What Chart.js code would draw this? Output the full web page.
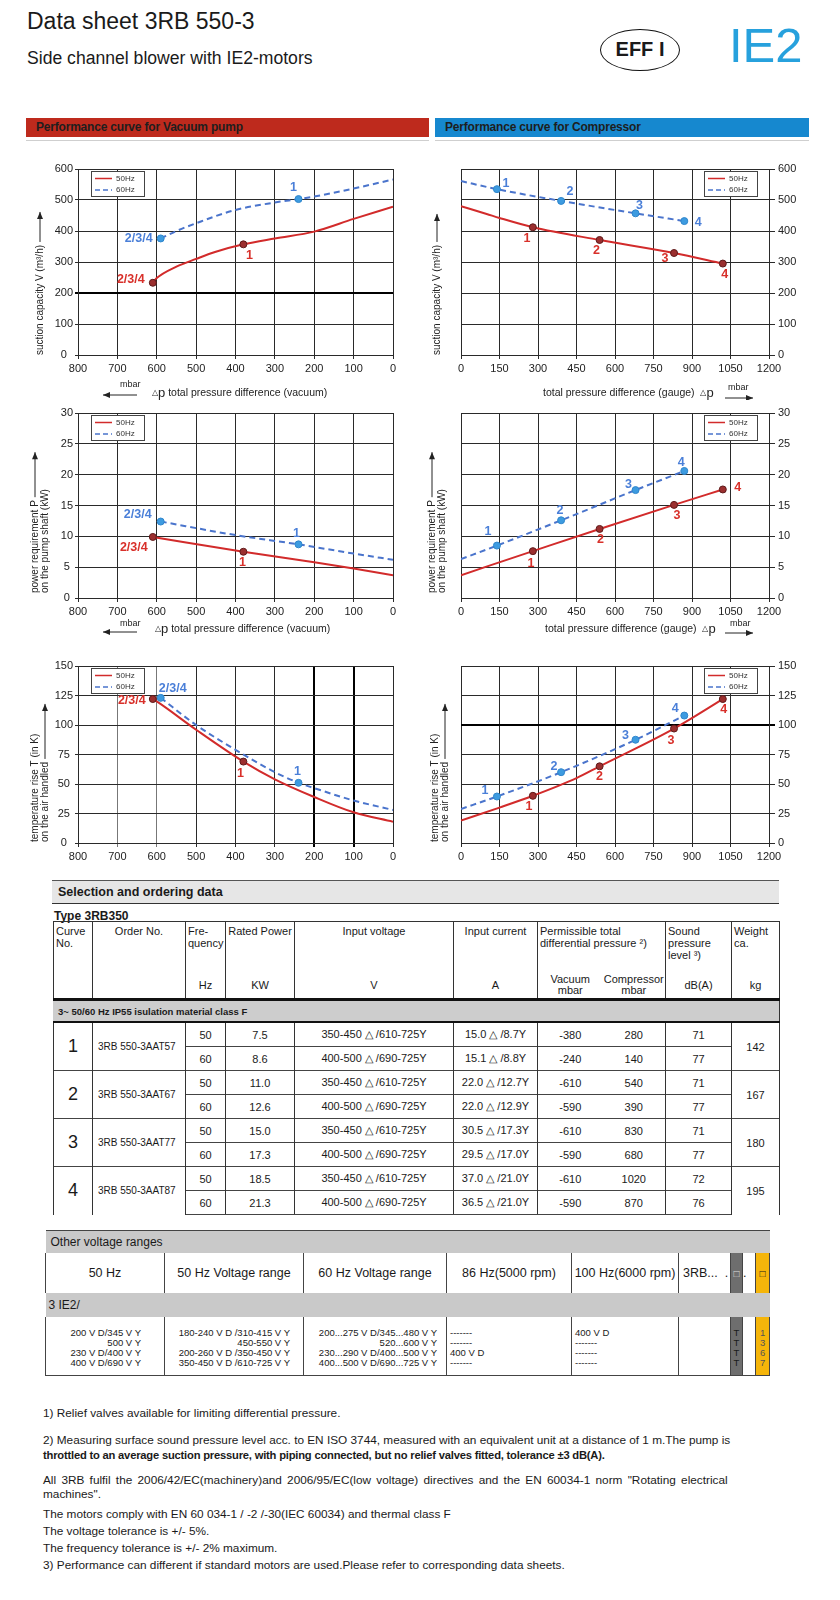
<!DOCTYPE html>
<html>
<head>
<meta charset="utf-8">
<title>Data sheet 3RB 550-3</title>
<script src="https://cdn.jsdelivr.net/npm/chart.js@4.4.1/dist/chart.umd.min.js"></script>
<style>
  body { margin: 0; background: #fff; font-family: "Liberation Sans", Arial, sans-serif; color: #1a1a1a; }
  #page { position: relative; width: 840px; height: 1600px; overflow: hidden; }
  .abs { position: absolute; white-space: nowrap; }
  .narrow { font-family: "Liberation Sans Narrow", "Liberation Sans", Arial, sans-serif; }
  .chartbox { position: absolute; }

  .bar { position: absolute; top: 118px; height: 19px; line-height: 19px; font-size: 12px; font-weight: bold;
         padding-left: 10px; box-sizing: border-box; color: #1e1e1e; letter-spacing: -0.2px; }
  .barline { position: absolute; top: 140px; height: 1px; background: #cfcfcf; }

  table.sel { position: absolute; left: 53px; top: 921px; width: 726px; border-collapse: collapse;
              table-layout: fixed; font-size: 11px; color: #1a1a1a; }
  table.sel td { border-left: 1px solid #333; border-right: 1px solid #333; padding: 0; white-space: nowrap; }
  table.sel tr.h1 td { height: 47px; vertical-align: top; padding: 3px 2px 0 2px; line-height: 12px; border-top: 1px solid #333; }
  table.sel tr.h1 td.c { padding: 3px 0 0 0; text-align: center; }
  table.sel tr.h2 td { height: 26px; vertical-align: middle; text-align: center; line-height: 11px;
                       border-bottom: 3px solid #111; }
  table.sel tr.band td { height: 20px; background: #cdcdcd; font-weight: bold; font-size: 9.5px;
                         padding-left: 4px; border-bottom: 2px solid #111; border-left: 1px solid #cdcdcd; }
  table.sel tr.d td { height: 23px; text-align: center; border-top: 1px solid #444; }
  table.sel td.vac { border-right-style: hidden; }
  table.sel td.cn { font-size: 18px; }
  table.sel tr.d td.ord { text-align: left; padding-left: 5px; font-size: 10px; }
  table.sel tr.last td { border-bottom: 1px solid #444; }

  table.ov { position: absolute; left: 45px; top: 1230px; width: 724px; border-collapse: collapse;
             table-layout: fixed; font-size: 12.5px; color: #1a1a1a; }
  table.ov td { padding: 0; white-space: nowrap; }
  table.ov tr.band td { height: 22px; background: #c9c9c9; border-top: 1px solid #444; padding-left: 5px; font-size: 12px; }
  table.ov tr.hd td { height: 40px; text-align: center; border-left: 1px solid #444; border-right: 1px solid #444; }
  table.ov tr.ie td { height: 24px; background: #c9c9c9; font-size: 12px; }
  table.ov tr.dt td { height: 47px; vertical-align: top; padding-top: 11px; font-size: 9.5px; line-height: 10px;
                      border-left: 1px solid #444; border-right: 1px solid #444; border-bottom: 1px solid #444; }
  table.ov td.g { background: #6e6e6e; border: none; }
  table.ov td.y { background: #f5b50a; border: none; }
  table.ov td.w { background: #fff; border: none; }

  .fn { position: absolute; left: 43px; font-size: 11.8px; line-height: 14px; white-space: nowrap; color: #1a1a1a; }
</style>
</head>
<body>
<div id="page">

  <div class="abs" style="left:27px; top:7px; font-size:23px; line-height:28px;">Data sheet 3RB 550-3</div>
  <div class="abs" style="left:27px; top:48px; font-size:17.6px; line-height:20px;">Side channel blower with IE2-motors</div>
  <div class="abs narrow" style="left:600px; top:29px; width:80px; height:42px; box-sizing:border-box; border:1.5px solid #111;
       border-radius:50%; text-align:center; line-height:39px; font-size:20px; font-weight:bold;">EFF I</div>
  <div class="abs narrow" style="left:729px; top:21px; font-size:49px; line-height:49px; color:#27a1dd;">IE2</div>

  <div class="bar" style="left:26px; width:403px; background:#be2a1d;">Performance curve for Vacuum pump</div>
  <div class="bar" style="left:435px; width:374px; background:#1688cf;">Performance curve for Compressor</div>
  <div class="barline" style="left:26px; width:403px;"></div>
  <div class="barline" style="left:435px; width:374px;"></div>

  <div class="chartbox" style="left:20px; top:150px;"><canvas id="vacFlow" width="400" height="250"></canvas></div>
  <div class="chartbox" style="left:420px; top:150px;"><canvas id="compFlow" width="420" height="250"></canvas></div>
  <div class="chartbox" style="left:20px; top:395px;"><canvas id="vacPower" width="400" height="245"></canvas></div>
  <div class="chartbox" style="left:420px; top:395px;"><canvas id="compPower" width="420" height="245"></canvas></div>
  <div class="chartbox" style="left:20px; top:645px;"><canvas id="vacTemp" width="400" height="225"></canvas></div>
  <div class="chartbox" style="left:420px; top:645px;"><canvas id="compTemp" width="420" height="225"></canvas></div>

  <!-- Selection and ordering data -->
  <div class="abs" style="left:52px; top:880px; width:721px; height:22px; background:#e6e6e6; border-top:1px solid #555;
       border-bottom:1px solid #333; font-size:12.5px; font-weight:bold; line-height:22px; padding-left:6px;">Selection and ordering data</div>
  <div class="abs" style="left:54px; top:909px; font-size:12px; font-weight:bold; line-height:14px;">Type 3RB350</div>

  <table class="sel narrow">
    <colgroup>
      <col style="width:39px"><col style="width:93px"><col style="width:40px"><col style="width:69px">
      <col style="width:159px"><col style="width:84px"><col style="width:65px"><col style="width:63px">
      <col style="width:66px"><col style="width:48px">
    </colgroup>
    <tr class="h1">
      <td>Curve<br>No.</td><td class="c">Order No.</td><td>Fre-<br>quency</td>
      <td class="c">Rated Power</td><td class="c">Input voltage</td>
      <td class="c">Input current</td><td colspan="2">Permissible total<br>differential pressure ²)</td>
      <td>Sound<br>pressure<br>level ³)</td><td>Weight<br>ca.</td>
    </tr>
    <tr class="h2">
      <td></td><td></td><td>Hz</td><td>KW</td><td>V</td><td>A</td>
      <td class="vac">Vacuum<br>mbar</td><td>Compressor<br>mbar</td><td>dB(A)</td><td>kg</td>
    </tr>
    <tr class="band"><td colspan="10">3~ 50/60 Hz IP55 isulation material class F</td></tr>

    <tr class="d"><td rowspan="2" class="cn">1</td><td rowspan="2" class="ord">3RB 550-3AAT57</td><td>50</td><td>7.5</td><td>350-450 △ /610-725Y</td><td>15.0 △ /8.7Y</td><td class="vac">-380</td><td>280</td><td>71</td><td rowspan="2">142</td></tr>
    <tr class="d"><td>60</td><td>8.6</td><td>400-500 △ /690-725Y</td><td>15.1 △ /8.8Y</td><td class="vac">-240</td><td>140</td><td>77</td></tr>
    <tr class="d"><td rowspan="2" class="cn">2</td><td rowspan="2" class="ord">3RB 550-3AAT67</td><td>50</td><td>11.0</td><td>350-450 △ /610-725Y</td><td>22.0 △ /12.7Y</td><td class="vac">-610</td><td>540</td><td>71</td><td rowspan="2">167</td></tr>
    <tr class="d"><td>60</td><td>12.6</td><td>400-500 △ /690-725Y</td><td>22.0 △ /12.9Y</td><td class="vac">-590</td><td>390</td><td>77</td></tr>
    <tr class="d"><td rowspan="2" class="cn">3</td><td rowspan="2" class="ord">3RB 550-3AAT77</td><td>50</td><td>15.0</td><td>350-450 △ /610-725Y</td><td>30.5 △ /17.3Y</td><td class="vac">-610</td><td>830</td><td>71</td><td rowspan="2">180</td></tr>
    <tr class="d"><td>60</td><td>17.3</td><td>400-500 △ /690-725Y</td><td>29.5 △ /17.0Y</td><td class="vac">-590</td><td>680</td><td>77</td></tr>
    <tr class="d"><td rowspan="2" class="cn">4</td><td rowspan="2" class="ord">3RB 550-3AAT87</td><td>50</td><td>18.5</td><td>350-450 △ /610-725Y</td><td>37.0 △ /21.0Y</td><td class="vac">-610</td><td>1020</td><td>72</td><td rowspan="2">195</td></tr>
    <tr class="d last"><td>60</td><td>21.3</td><td>400-500 △ /690-725Y</td><td>36.5 △ /21.0Y</td><td class="vac">-590</td><td>870</td><td>76</td></tr>
  </table>

  <!-- Other voltage ranges -->
  <table class="ov narrow">
    <colgroup>
      <col style="width:119px"><col style="width:139px"><col style="width:143px"><col style="width:125px">
      <col style="width:107px"><col style="width:52px"><col style="width:12px"><col style="width:13px"><col style="width:14px">
    </colgroup>
    <tr class="band"><td colspan="9">Other voltage ranges</td></tr>
    <tr class="hd">
      <td>50 Hz</td><td>50 Hz Voltage range</td><td>60 Hz Voltage range</td><td>86 Hz(5000 rpm)</td>
      <td>100 Hz(6000 rpm)</td><td style="text-align:left; padding-left:4px; border-right:none;">3RB...&nbsp;&nbsp;.</td>
      <td class="g" style="color:#ddd; font-size:10px;">□</td><td class="w" style="text-align:left;">.</td>
      <td class="y" style="font-size:10px;">□</td>
    </tr>
    <tr class="ie"><td colspan="6" style="padding-left:3px;">3 IE2/</td><td class="g"></td><td style="background:#c9c9c9"></td><td class="y"></td></tr>
    <tr class="dt">
      <td style="text-align:right; padding-right:23px;">200 V D/345 V Y<br>500 V Y<br>230 V D/400 V Y<br>400 V D/690 V Y</td>
      <td style="text-align:right; padding-right:13px;">180-240 V D /310-415 V Y<br>450-550 V Y<br>200-260 V D /350-450 V Y<br>350-450 V D /610-725 V Y</td>
      <td style="text-align:right; padding-right:9px;">200...275 V D/345...480 V Y<br>520...600 V Y<br>230...290 V D/400...500 V Y<br>400...500 V D/690...725 V Y</td>
      <td style="padding-left:3px;">-------<br>-------<br>400 V D<br>-------</td>
      <td style="padding-left:3px;">400 V D<br>-------<br>-------<br>-------</td>
      <td style="border-right:none;"></td>
      <td class="g" style="text-align:center; color:#1a1a1a;">T<br>T<br>T<br>T</td>
      <td class="w"></td>
      <td class="y" style="text-align:center; color:#555;">1<br>3<br>6<br>7</td>
    </tr>
  </table>

  <div class="fn" style="top:1406px;">1) Relief valves available for limiting differential pressure.</div>
  <div class="fn" style="top:1433px;">2) Measuring surface sound pressure level acc. to EN ISO 3744, measured with an equivalent unit at a distance of 1 m.The pump is</div>
  <div class="fn" style="top:1448px; font-size:11.2px; font-weight:bold; letter-spacing:-0.2px;">throttled to an average suction pressure, with piping connected, but no relief valves fitted, tolerance ±3 dB(A).</div>
  <div class="fn" style="top:1473px; word-spacing:2px;">All 3RB fulfil the 2006/42/EC(machinery)and 2006/95/EC(low voltage) directives and the EN 60034-1 norm "Rotating electrical</div>
  <div class="fn" style="top:1487px;">machines".</div>
  <div class="fn" style="top:1507px;">The motors comply with EN 60 034-1 / -2 /-30(IEC 60034) and thermal class F</div>
  <div class="fn" style="top:1524px;">The voltage tolerance is +/- 5%.</div>
  <div class="fn" style="top:1541px;">The frequency tolerance is +/- 2% maximum.</div>
  <div class="fn" style="top:1558px;">3) Performance can different if standard motors are used.Please refer to corresponding data sheets.</div>
</div>

<script>
// ---------- axis tick labels ----------
const vacTicks   = [800, 700, 600, 500, 400, 300, 200, 100, 0];
const compTicks  = [0, 150, 300, 450, 600, 750, 900, 1050, 1200];
const flowTicks  = [0, 100, 200, 300, 400, 500, 600];
const powerTicks = [0, 5, 10, 15, 20, 25, 30];
const tempTicks  = [0, 25, 50, 75, 100, 125, 150];
const freqLabels = ['50Hz', '60Hz'];

// ---------- vacuum pump (x = total pressure difference, mbar) ----------
const vacFlowX50 = [610, 600, 550, 500, 450, 380, 300, 200, 100, 0];
const vacFlow50  = [233, 248, 285, 310, 333, 357, 376, 398, 439, 478];
const vacFlowX60 = [590, 550, 500, 400, 300, 240, 200, 100, 0];
const vacFlow60  = [376, 400, 425, 468, 492, 503, 511, 537, 566];

const vacPowX50 = [610, 380, 200, 100, 0];
const vacPow50  = [9.9, 7.5, 5.8, 4.8, 3.7];
const vacPowX60 = [590, 400, 240, 100, 0];
const vacPow60  = [12.4, 10.2, 8.7, 7.2, 6.2];

const vacTempX50 = [610, 600, 500, 380, 300, 200, 100, 0];
const vacTemp50  = [122, 120, 96, 69, 54, 39, 26, 18];
const vacTempX60 = [590, 500, 400, 300, 240, 200, 100, 0];
const vacTemp60  = [123, 100, 79, 60, 51, 46.5, 36, 28];

// operating points of the curves (vacuum)
const vacPtX50 = [610, 380];
const vacPtX60 = [590, 240];
const vacFlowPt50 = [233, 357];
const vacFlowPt60 = [376, 503];
const vacPowPt50  = [9.9, 7.5];
const vacPowPt60  = [12.4, 8.7];
const vacTempPt50 = [122, 69];
const vacTempPt60 = [123, 51];
const vacPtNames  = ['2/3/4', '1'];

// ---------- compressor (x = total pressure difference gauge, mbar) ----------
const compFlowX50 = [0, 100, 150, 280, 540, 830, 1020];
const compFlow50  = [480, 455, 442, 412, 371, 329, 295];
const compFlowX60 = [0, 140, 390, 680, 870];
const compFlow60  = [561, 535, 497, 457, 432];

const compPowX50 = [0, 280, 540, 830, 1020];
const compPow50  = [3.7, 7.6, 11.2, 15.1, 17.6];
const compPowX60 = [0, 140, 390, 680, 870];
const compPow60  = [6.3, 8.5, 12.6, 17.5, 20.6];

const compTempX50 = [0, 150, 280, 450, 540, 830, 1020];
const compTemp50  = [19, 30, 40, 55, 65, 97, 122];
const compTempX60 = [0, 140, 390, 680, 870];
const compTemp60  = [28.8, 39.4, 60, 87.5, 108];

// operating points (compressor)
const compPtX50 = [280, 540, 830, 1020];
const compPtX60 = [140, 390, 680, 870];
const compFlowPt50 = [412, 371, 329, 295];
const compFlowPt60 = [535, 497, 457, 432];
const compPowPt50  = [7.6, 11.2, 15.1, 17.6];
const compPowPt60  = [8.5, 12.6, 17.5, 20.6];
const compTempPt50 = [40, 65, 97, 122];
const compTempPt60 = [39.4, 60, 87.5, 108];
const compPtNames  = ['1', '2', '3', '4'];

// ---------- styles ----------
const RED = '#d22b2b';
const BLUE = '#4a74cc';
const FONT = '"Liberation Sans", Arial, sans-serif';
const GRID = '#2a2a2a';

function xy(xs, ys) {
    return xs.map((x, i) => ({ x: x, y: ys[i] }));
}

function curve(xs, ys, hz) {
    return {
        data: xy(xs, ys),
        showLine: true,
        pointRadius: 0,
        borderColor: hz === 50 ? RED : BLUE,
        borderWidth: 2,
        borderDash: hz === 50 ? [] : [6, 4],
        cubicInterpolationMode: 'monotone',
        order: 2
    };
}

function marks(xs, ys, hz, names, offsets) {
    return {
        data: xy(xs, ys),
        showLine: false,
        pointRadius: 3.5,
        pointBackgroundColor: hz === 50 ? '#9b2f2f' : '#3d9be0',
        pointBorderColor: hz === 50 ? '#5e1a1a' : '#2f86cc',
        pointBorderWidth: 1,
        order: 1,
        ptNames: names,
        ptOffsets: offsets,
        ptColor: hz === 50 ? '#d8302a' : '#4a7fd8'
    };
}

// ---------- plugins ----------
function arrow(ctx, x1, y1, x2, y2) {
    const a = Math.atan2(y2 - y1, x2 - x1);
    ctx.beginPath();
    ctx.moveTo(x1, y1);
    ctx.lineTo(x2, y2);
    ctx.stroke();
    ctx.beginPath();
    ctx.moveTo(x2, y2);
    ctx.lineTo(x2 - 7 * Math.cos(a) + 3 * Math.sin(a), y2 - 7 * Math.sin(a) - 3 * Math.cos(a));
    ctx.lineTo(x2 - 7 * Math.cos(a) - 3 * Math.sin(a), y2 - 7 * Math.sin(a) + 3 * Math.cos(a));
    ctx.closePath();
    ctx.fill();
}

// axis titles, arrows and the "△p ... mbar" captions
const decoPlugin = {
    id: 'deco',
    afterDraw(chart, args, o) {
        const ctx = chart.ctx;
        ctx.save();
        ctx.fillStyle = '#222';
        ctx.strokeStyle = '#222';
        ctx.lineWidth = 1;
        (o.yTitle || []).forEach(t => {
            ctx.save();
            ctx.translate(t.x, t.y);
            ctx.rotate(-Math.PI / 2);
            ctx.font = '10px ' + FONT;
            ctx.textAlign = 'left';
            ctx.textBaseline = 'middle';
            ctx.fillText(t.text, 0, 0);
            if (t.arrow) {
                const w = ctx.measureText(t.text).width + (t.gap || 3);
                arrow(ctx, w, 0, w + t.arrow, 0);
            }
            ctx.restore();
        });
        (o.captions || []).forEach(c => {
            let x = c.x;
            ctx.textBaseline = 'middle';
            ctx.textAlign = 'left';
            c.segs.forEach(s => {
                ctx.font = s[1] + 'px ' + FONT;
                ctx.fillText(s[0], x, c.y);
                x += ctx.measureText(s[0]).width;
            });
        });
        (o.arrows || []).forEach(a => arrow(ctx, a[0], a[1], a[2], a[3]));
        ctx.restore();
    }
};

// numbers next to the operating points
const ptLabelPlugin = {
    id: 'ptLabels',
    afterDatasetsDraw(chart) {
        const ctx = chart.ctx;
        chart.data.datasets.forEach((ds, i) => {
            if (!ds.ptNames) return;
            const meta = chart.getDatasetMeta(i);
            ctx.save();
            ctx.font = 'bold 12.5px ' + FONT;
            ctx.fillStyle = ds.ptColor;
            ctx.textAlign = 'center';
            ctx.textBaseline = 'middle';
            meta.data.forEach((el, j) => {
                const off = ds.ptOffsets[j];
                ctx.fillText(ds.ptNames[j], el.x + off[0], el.y + off[1]);
            });
            ctx.restore();
        });
    }
};

// small boxed legend inside the plot (under the curves and labels)
const hzLegendPlugin = {
    id: 'hzLegend',
    beforeDatasetsDraw(chart, args, o) {
        const a = chart.chartArea, ctx = chart.ctx;
        const w = 53, h = 25;
        const x = Math.round(o.side === 'left' ? a.left + 13 : a.right - 12 - w);
        const y = Math.round(a.top + 2);
        ctx.save();
        ctx.fillStyle = '#fff';
        ctx.fillRect(x, y, w, h);
        ctx.strokeStyle = '#444';
        ctx.lineWidth = 1;
        ctx.strokeRect(x + 0.5, y + 0.5, w, h);
        [[RED, []], [BLUE, [5, 3]]].forEach((r, i) => {
            const yy = y + 7.5 + i * 11.5;
            ctx.strokeStyle = r[0];
            ctx.lineWidth = 1.5;
            ctx.setLineDash(r[1]);
            ctx.beginPath();
            ctx.moveTo(x + 4, yy);
            ctx.lineTo(x + 21, yy);
            ctx.stroke();
            ctx.setLineDash([]);
            ctx.fillStyle = '#333';
            ctx.font = '8px ' + FONT;
            ctx.textBaseline = 'middle';
            ctx.fillText(freqLabels[i], x + 25, yy);
        });
        ctx.restore();
    }
};

function makeChart(id, o) {
    const vac = o.side === 'vac';
    const xt = vac ? vacTicks : compTicks;
    const yt = o.yTicks;
    const tickFont = { family: FONT, size: 11 };
    return new Chart(document.getElementById(id), {
        type: 'scatter',
        data: { datasets: o.datasets },
        options: {
            responsive: false,
            animation: false,
            events: [],
            layout: { padding: vac ? { left: 0, right: 27, top: o.top, bottom: 0 }
                                   : { left: 41, right: 0, top: o.top, bottom: 0 } },
            scales: {
                x: {
                    type: 'linear',
                    min: Math.min(...xt), max: Math.max(...xt),
                    reverse: vac,
                    ticks: { stepSize: Math.abs(xt[1] - xt[0]), font: tickFont, color: '#222', padding: 3,
                             maxRotation: 0, autoSkip: false, callback: v => String(v) },
                    grid: { color: o.xGridColor || GRID, lineWidth: o.xGridWidth || 1, tickLength: 4 },
                    border: { color: GRID },
                    afterFit: s => { s.height = o.xh; }
                },
                y: {
                    type: 'linear',
                    position: vac ? 'left' : 'right',
                    min: Math.min(...yt), max: Math.max(...yt),
                    ticks: { stepSize: yt[1] - yt[0], font: tickFont, color: '#222',
                             padding: vac ? 2 : 3, crossAlign: vac ? 'center' : 'near', callback: v => String(v) },
                    grid: { color: o.yGridColor || GRID, lineWidth: o.yGridWidth || 1, tickLength: vac ? 3 : 6 },
                    border: { color: GRID },
                    afterFit: s => { s.width = vac ? 58 : 71; }
                }
            },
            plugins: {
                legend: { display: false },
                tooltip: { enabled: false },
                deco: o.deco,
                hzLegend: { side: vac ? 'left' : 'right' }
            }
        },
        plugins: [decoPlugin, ptLabelPlugin, hzLegendPlugin]
    });
}

const vacCaption = [['△', 8], ['p', 13], [' total pressure difference (vacuum)', 10.5]];
const compCaption = [['total pressure difference (gauge)  ', 10.5], ['△', 8], ['p', 13]];
const thick = v => (ctx => ctx.tick && v.includes(ctx.tick.value) ? 2 : 1);
const thickColor = v => (ctx => ctx.tick && v.includes(ctx.tick.value) ? '#000' : GRID);

// ---------- suction capacity ----------
makeChart('vacFlow', {
    side: 'vac', yTicks: flowTicks, top: 19, xh: 45,
    yGridWidth: thick([200]), yGridColor: thickColor([200]),
    datasets: [
        marks(vacPtX50, vacFlowPt50, 50, vacPtNames, [[-22, -3], [6, 11]]),
        marks(vacPtX60, vacFlowPt60, 60, vacPtNames, [[-22, 0], [-5, -12]]),
        curve(vacFlowX50, vacFlow50, 50),
        curve(vacFlowX60, vacFlow60, 60)
    ],
    deco: {
        yTitle: [{ x: 20, y: 205, text: 'suction capacity V (m³/h)', arrow: 30, gap: 3 }],
        captions: [{ x: 100, y: 235, segs: [['mbar', 9]] }, { x: 132, y: 243, segs: vacCaption }],
        arrows: [[117, 245, 83, 245]]
    }
});

makeChart('compFlow', {
    side: 'comp', yTicks: flowTicks, top: 19, xh: 45,
    datasets: [
        marks(compPtX50, compFlowPt50, 50, compPtNames, [[-6, 11], [-3, 11], [-9, 6], [2, 11]]),
        marks(compPtX60, compFlowPt60, 60, compPtNames, [[9, -6], [9, -9], [4, -8], [14, 1]]),
        curve(compFlowX50, compFlow50, 50),
        curve(compFlowX60, compFlow60, 60)
    ],
    deco: {
        yTitle: [{ x: 17, y: 205, text: 'suction capacity V (m³/h)', arrow: 28, gap: 3 }],
        captions: [{ x: 123, y: 243, segs: compCaption }, { x: 308, y: 238, segs: [['mbar', 9]] }],
        arrows: [[305, 248, 333, 248]]
    }
});

// ---------- power requirement ----------
makeChart('vacPower', {
    side: 'vac', yTicks: powerTicks, top: 18, xh: 42,
    datasets: [
        marks(vacPtX50, vacPowPt50, 50, vacPtNames, [[-19, 11], [-1, 11]]),
        marks(vacPtX60, vacPowPt60, 60, vacPtNames, [[-23, -7], [-2, -11]]),
        curve(vacPowX50, vacPow50, 50),
        curve(vacPowX60, vacPow60, 60)
    ],
    deco: {
        yTitle: [{ x: 15, y: 198, text: 'power requirement P', arrow: 45, gap: 3 },
                 { x: 25, y: 198, text: 'on the pump shaft (kW)' }],
        captions: [{ x: 100, y: 229, segs: [['mbar', 9]] }, { x: 135, y: 234, segs: vacCaption }],
        arrows: [[117, 237, 83, 237]]
    }
});

makeChart('compPower', {
    side: 'comp', yTicks: powerTicks, top: 18, xh: 42,
    datasets: [
        marks(compPtX50, compPowPt50, 50, compPtNames, [[-2, 12], [1, 11], [3, 11], [15, -2]]),
        marks(compPtX60, compPowPt60, 60, compPtNames, [[-9, -14], [-1, -10], [-7, -6], [-3, -8]]),
        curve(compPowX50, compPow50, 50),
        curve(compPowX60, compPow60, 60)
    ],
    deco: {
        yTitle: [{ x: 12, y: 198, text: 'power requirement P', arrow: 45, gap: 3 },
                 { x: 22, y: 198, text: 'on the pump shaft (kW)' }],
        captions: [{ x: 125, y: 234, segs: compCaption }, { x: 310, y: 229, segs: [['mbar', 9]] }],
        arrows: [[305, 238, 333, 238]]
    }
});

// ---------- temperature rise ----------
makeChart('vacTemp', {
    side: 'vac', yTicks: tempTicks, top: 21, xh: 27,
    xGridWidth: thick([200, 100]),
    xGridColor: ctx => ctx.tick && [700, 600].includes(ctx.tick.value) ? '#777' : thickColor([200, 100])(ctx),
    datasets: [
        marks(vacPtX50, vacTempPt50, 50, vacPtNames, [[-21, 2], [-3, 12]]),
        marks(vacPtX60, vacTempPt60, 60, vacPtNames, [[12, -9], [-1, -11]]),
        curve(vacTempX50, vacTemp50, 50),
        curve(vacTempX60, vacTemp60, 60)
    ],
    deco: {
        yTitle: [{ x: 15, y: 197, text: 'temperature rise T (in K)' },
                 { x: 25, y: 197, text: 'on the air handled', arrow: 55, gap: 3 }]
    }
});

makeChart('compTemp', {
    side: 'comp', yTicks: tempTicks, top: 21, xh: 27,
    yGridWidth: thick([100]), yGridColor: thickColor([100]),
    datasets: [
        marks(compPtX50, compTempPt50, 50, compPtNames, [[-4, 11], [0, 10], [-3, 12], [1, 11]]),
        marks(compPtX60, compTempPt60, 60, compPtNames, [[-12, -6], [-7, -6], [-10, -4], [-9, -7]]),
        curve(compTempX50, compTemp50, 50),
        curve(compTempX60, compTemp60, 60)
    ],
    deco: {
        yTitle: [{ x: 15, y: 197, text: 'temperature rise T (in K)' },
                 { x: 25, y: 197, text: 'on the air handled', arrow: 55, gap: 3 }]
    }
});
</script>
</body>
</html>
